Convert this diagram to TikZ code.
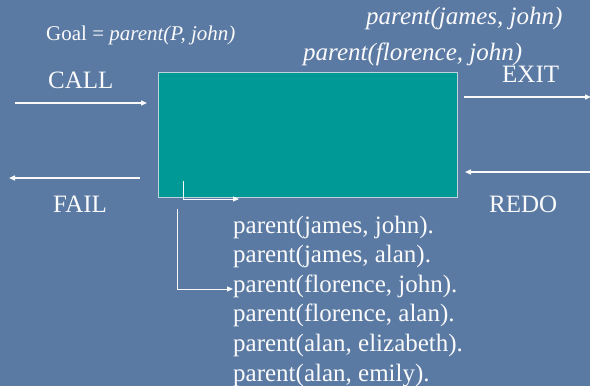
\documentclass[tikz,border=0pt]{standalone}
\usepackage{fontspec}
\setmainfont{Liberation Serif}
\usetikzlibrary{arrows.meta}
\definecolor{bgblue}{RGB}{90,122,164}
\definecolor{boxteal}{RGB}{0,153,150}
\definecolor{boxedge}{RGB}{190,212,220}
\definecolor{txt}{RGB}{250,250,250}
\tikzset{
  lbl/.style={inner sep=0pt, anchor=base west, text=txt, font=\fontsize{25}{30}\selectfont},
  small/.style={inner sep=0pt, anchor=base west, text=txt, font=\fontsize{21}{25}\selectfont},
  flow/.style={draw=txt, line width=1.4pt, -{Triangle[length=6pt,width=5pt]}},
  thin flow/.style={draw=txt, line width=1pt, -{Triangle[length=6pt,width=5pt]}},
}
\begin{document}
\begin{tikzpicture}[x=1pt,y=-1pt]
\fill[bgblue] (0,0) rectangle (590,386);
\useasboundingbox (0,0) rectangle (590,386);

% box
\node (box) [draw=boxedge, line width=1pt, fill=boxteal, minimum width=299pt, minimum height=125pt, inner sep=0pt, anchor=north west] at (158,72) {};

% labels
\node (goal) [small] at (46,40.5) {Goal = \textit{parent(P, john)}};
\node (sol1) [lbl] at (366,24) {\textit{parent(james, john)}};
\node (sol2) [lbl] at (303,60) {\textit{parent(florence, john)}};
\node (call) [lbl] at (48,88) {CALL};
\node (exit) [lbl] at (502,82) {EXIT};
\node (fail) [lbl] at (53,212) {FAIL};
\node (redo) [lbl] at (489,212) {REDO};

% clauses
\node (c1) [lbl] at (233,233) {parent(james, john).};
\node (c2) [lbl] at (233,262.6) {parent(james, alan).};
\node (c3) [lbl] at (233,292.2) {parent(florence, john).};
\node (c4) [lbl] at (233,321.8) {parent(florence, alan).};
\node (c5) [lbl] at (233,351.4) {parent(alan, elizabeth).};
\node (c6) [lbl] at (233,381) {parent(alan, emily).};

% port arrows
\coordinate (callS) at (15,103);
\coordinate (callE) at (147,103);
\coordinate (exitS) at (464,97);
\coordinate (exitE) at (591,97);
\coordinate (failS) at (140,178);
\coordinate (failE) at (9,178);
\coordinate (redoS) at (591,172);
\coordinate (redoE) at (465,172);
\draw[flow] (callS) -- (callE);
\draw[flow] (exitS) -- (exitE);
\draw[flow] (failS) -- (failE);
\draw[flow] (redoS) -- (redoE);

% inner arrows
\coordinate (inA) at (183,181);
\coordinate (inB) at (183,199);
\coordinate (inC) at (239,199);
\draw[thin flow] (inA) -- (inB) -- (inC);
\coordinate (trA) at (177,209);
\coordinate (trB) at (177,289);
\coordinate (trC) at (233,289);
\draw[thin flow] (trA) -- (trB) -- (trC);
\end{tikzpicture}
\end{document}
